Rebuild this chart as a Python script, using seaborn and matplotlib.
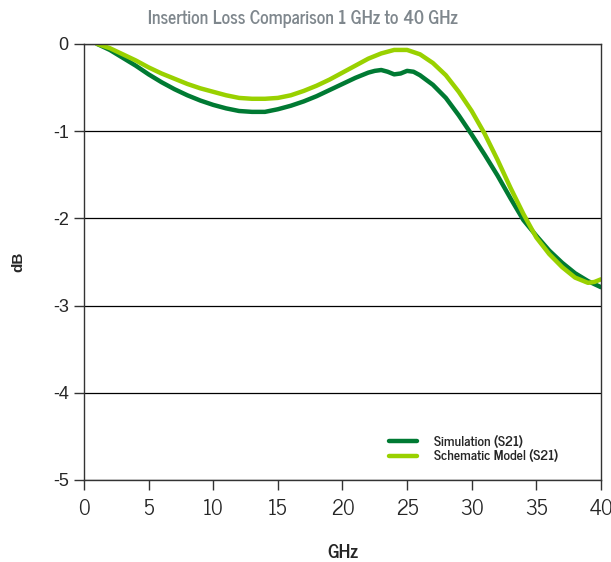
import matplotlib
matplotlib.use("Agg")
import matplotlib.pyplot as plt
import seaborn as sns
import pandas as pd

# values
freq_sim = [1, 2, 3, 4, 5, 6, 7, 8, 9, 10, 11, 12, 13, 14, 15, 16, 17, 18, 19, 20,
            21, 22, 22.5, 23, 23.5, 24, 24.5, 25, 25.5, 26, 27, 28, 29, 30, 31, 32, 33, 34,
            35, 36, 37, 38, 39, 40]
db_sim = [0.0, -0.07, -0.16, -0.25, -0.35, -0.44, -0.52, -0.59, -0.65, -0.70, -0.74, -0.77,
          -0.78, -0.78, -0.75, -0.71, -0.66, -0.60, -0.53, -0.46, -0.39, -0.33, -0.31, -0.30,
          -0.32, -0.35, -0.34, -0.31, -0.32, -0.36, -0.47, -0.62, -0.82, -1.04, -1.27,
          -1.51, -1.77, -2.02, -2.20, -2.37, -2.51, -2.63, -2.72, -2.79]

freq_model = [1, 2, 3, 4, 5, 6, 7, 8, 9, 10, 11, 12, 13, 14, 15, 16, 17, 18, 19, 20,
              21, 22, 23, 24, 25, 26, 27, 28, 29, 30, 31, 32, 33, 34, 35, 36, 37, 38,
              39, 39.5, 40]
db_model = [0.0, -0.05, -0.12, -0.19, -0.27, -0.34, -0.40, -0.46, -0.51, -0.55, -0.59, -0.62,
            -0.63, -0.63, -0.62, -0.59, -0.54, -0.48, -0.41, -0.33, -0.25, -0.17, -0.11,
            -0.07, -0.07, -0.12, -0.22, -0.36, -0.55, -0.77, -1.03, -1.33, -1.65, -1.95,
            -2.22, -2.41, -2.56, -2.68, -2.74, -2.73, -2.70]

series = ["Simulation (S21)", "Schematic Model (S21)"]
colors = ["#007a33", "#99d100"]

df = pd.concat([
    pd.DataFrame({"GHz": freq_sim, "dB": db_sim, "series": series[0]}),
    pd.DataFrame({"GHz": freq_model, "dB": db_model, "series": series[1]}),
])

sns.set_style("white")
plt.rcParams["font.family"] = ["Liberation Sans", "DejaVu Sans"]
plt.rcParams["lines.solid_joinstyle"] = "round"
gothic = ["News Cycle", "Liberation Sans"]

fig = plt.figure(figsize=(6.11, 5.62), dpi=100)
ax = fig.add_axes([0.1375, 0.146, 0.846, 0.776])

sns.lineplot(data=df, x="GHz", y="dB", hue="series", hue_order=series,
             palette=colors, linewidth=3.2, ax=ax, sort=False)

ax.set_xlim(0, 40)
ax.set_ylim(-5, 0)
ax.set_xticks(range(0, 41, 5))
ax.set_yticks(range(-5, 1))
ax.set_yticklabels([str(v) for v in range(-5, 1)])
ax.yaxis.grid(True, color="black", linewidth=0.9)
ax.xaxis.grid(False)
for s in ax.spines.values():
    s.set_color("#333333")
    s.set_linewidth(1.0)
ax.tick_params(axis="both", direction="out", length=7, width=1, color="#333333",
               labelsize=13, pad=4, left=True, bottom=True)
ax.tick_params(axis="x", pad=7)
for lab in ax.get_xticklabels():
    lab.set_family(gothic)
    lab.set_fontsize(15)

ax.set_xlabel("GHz", fontsize=13.5, fontweight="bold", labelpad=18, family=gothic)
ax.set_ylabel("dB", fontsize=11, fontweight="bold", labelpad=20)

fig.text(0.496, 0.966, "Insertion Loss Comparison 1 GHz to 40 GHz",
         ha="center", va="center", fontsize=12.8, fontweight="bold",
         color="#7f878d", family=gothic)

ax.legend(loc="lower right", bbox_to_anchor=(0.94, 0.01), frameon=False,
          prop={"size": 9.8, "weight": "bold", "family": gothic},
          handlelength=2.1, labelspacing=0.12, handletextpad=1.2)

fig.savefig("out.png", dpi=100)
